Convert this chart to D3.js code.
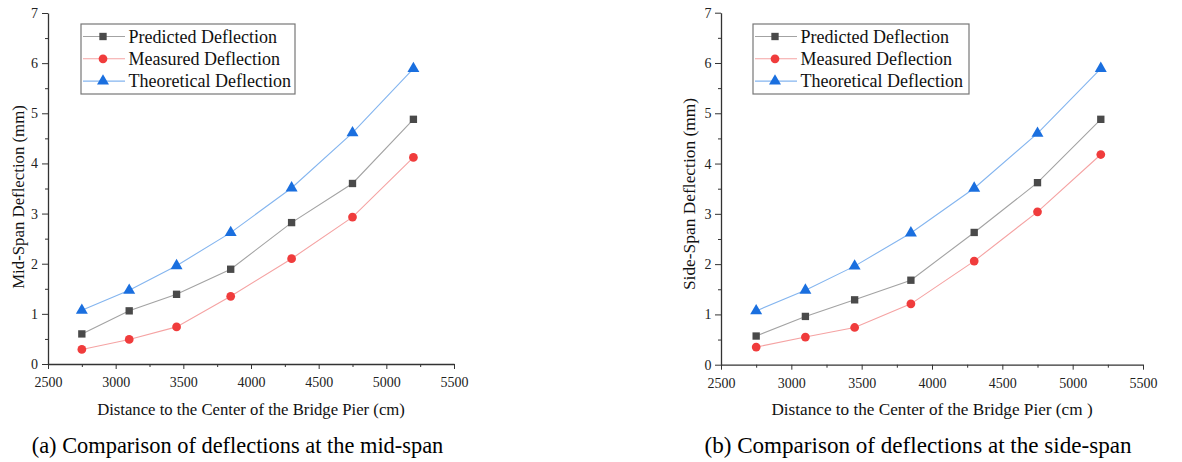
<!DOCTYPE html>
<html>
<head>
<meta charset="utf-8">
<script src="https://cdn.jsdelivr.net/npm/d3@7"></script>
<style>
  body { margin: 0; background: #fff; }
  svg { display: block; }
</style>
</head>
<body>
<div id="graf"></div>
<script>
const fuente = "'Liberation Serif', 'Times New Roman', serif"

// Datos
const distancias = [2750, 3100, 3450, 3850, 4300, 4750, 5200]
const seriesNombres = ["Predicted Deflection", "Measured Deflection", "Theoretical Deflection"]

const midPredicho = [0.6, 1.06, 1.39, 1.89, 2.82, 3.6, 4.88]
const midMedido = [0.29, 0.49, 0.74, 1.35, 2.1, 2.93, 4.12]
const midTeorico = [1.07, 1.47, 1.96, 2.62, 3.51, 4.61, 5.89]

const sidePredicho = [0.57, 0.96, 1.29, 1.68, 2.63, 3.62, 4.88]
const sideMedido = [0.35, 0.55, 0.74, 1.21, 2.06, 3.04, 4.18]
const sideTeorico = [1.07, 1.48, 1.96, 2.62, 3.51, 4.6, 5.89]

const xTicks = [2500, 3000, 3500, 4000, 4500, 5000, 5500]
const yTicks = [0, 1, 2, 3, 4, 5, 6, 7]

// Estilos de series
const estilos = [
  { linea: "#a3a3a3", marca: "#4a4a4a", forma: d3.symbolSquare, size: 54 },
  { linea: "#f5a3a3", marca: "#f03c3c", forma: d3.symbolCircle, size: 60 },
  { linea: "#84b5ef", marca: "#1a6fdf", forma: d3.symbolTriangle, size: 62 },
]

const paneles = [
  {
    series: [midPredicho, midMedido, midTeorico],
    x0: 48, x1: 454, y0: 364, y1: 13,
    ytitulo: "Mid-Span Deflection (mm)", ytx: 24, yty: 197, yfs: 16.8,
    xtitulo: "Distance to the Center of the Bridge Pier (cm)", xtx: 251, xfs: 16.7,
    caption: "(a) Comparison of deflections at the mid-span", cx: 237.5, cfs: 22.4,
    leg: { x: 81, y: 24, w: 214, h: 70 }, ypad: 4,
  },
  {
    series: [sidePredicho, sideMedido, sideTeorico],
    x0: 721, x1: 1143, y0: 364.7, y1: 12.7,
    ytitulo: "Side-Span Deflection (mm)", ytx: 695, yty: 194, yfs: 17.4,
    xtitulo: "Distance to the Center of the Bridge Pier (cm )", xtx: 932, xfs: 17.2,
    caption: "(b) Comparison of deflections at the side-span", cx: 918, cfs: 23.1,
    leg: { x: 753, y: 24, w: 216, h: 70 }, ypad: 3.5,
  },
]

const svg = d3.select("#graf").append("svg")
  .attr("width", 1182)
  .attr("height", 462)
  .attr("font-family", fuente)

const estiloEje = (a) => {
  a.attr("font-family", fuente).attr("font-size", 14)
  a.selectAll("line").attr("stroke", "#333")
  a.select(".domain").attr("stroke", "#333").attr("stroke-width", 1.3)
  a.selectAll("text").attr("fill", "#222")
}

paneles.forEach((p) => {
  const x = d3.scaleLinear().domain([2500, 5500]).range([p.x0, p.x1])
  const y = d3.scaleLinear().domain([0, 7]).range([p.y0, p.y1])
  const g = svg.append("g")

  // Ejes (menores primero)
  g.append("g")
    .attr("transform", `translate(0, ${p.y0})`)
    .call(d3.axisBottom(x).tickValues(d3.range(2750, 5500, 500)).tickSize(3).tickFormat(""))
    .call((a) => a.select(".domain").remove())
    .call(estiloEje)
  g.append("g")
    .attr("transform", `translate(${p.x0}, 0)`)
    .call(d3.axisLeft(y).tickValues(d3.range(0.5, 7, 1)).tickSize(3).tickFormat(""))
    .call((a) => a.select(".domain").remove())
    .call(estiloEje)

  g.append("g")
    .attr("transform", `translate(0, ${p.y0})`)
    .call(d3.axisBottom(x).tickValues(xTicks).tickSize(5).tickSizeOuter(0).tickPadding(8).tickFormat(d3.format("d")))
    .call(estiloEje)

  g.append("g")
    .attr("transform", `translate(${p.x0}, 0)`)
    .call(d3.axisLeft(y).tickValues(yTicks).tickSize(6).tickSizeOuter(0).tickPadding(p.ypad).tickFormat(d3.format("d")))
    .call(estiloEje)

  // Líneas y marcas
  p.series.forEach((vals, i) => {
    const st = estilos[i]
    const pts = distancias.map((d, j) => [d, vals[j]])
    g.append("path")
      .datum(pts)
      .attr("fill", "none")
      .attr("stroke", st.linea)
      .attr("stroke-width", 1.1)
      .attr("d", d3.line().x((d) => x(d[0])).y((d) => y(d[1])))
    g.selectAll(null)
      .data(pts)
      .enter()
      .append("path")
      .attr("transform", (d) => `translate(${x(d[0])}, ${y(d[1])})`)
      .attr("d", d3.symbol().type(st.forma).size(st.size))
      .attr("fill", st.marca)
  })

  // Leyenda
  const leg = g.append("g").attr("transform", `translate(${p.leg.x}, ${p.leg.y})`)
  leg.append("rect")
    .attr("width", p.leg.w)
    .attr("height", p.leg.h)
    .attr("fill", "#fff")
    .attr("stroke", "#777")
    .attr("stroke-width", 1.2)
  seriesNombres.forEach((nombre, i) => {
    const st = estilos[i]
    const ly = 12.5 + i * 22.3
    leg.append("line")
      .attr("x1", 2).attr("x2", 44).attr("y1", ly).attr("y2", ly)
      .attr("stroke", st.linea).attr("stroke-width", 1.1)
    leg.append("path")
      .attr("transform", `translate(22, ${ly})`)
      .attr("d", d3.symbol().type(st.forma).size(st.size))
      .attr("fill", st.marca)
    leg.append("text")
      .attr("x", 47.5).attr("y", ly + 6)
      .attr("font-size", 18)
      .attr("fill", "#111")
      .text(nombre)
  })

  // Títulos
  g.append("text")
    .attr("transform", `translate(${p.ytx}, ${p.yty}) rotate(-90)`)
    .attr("text-anchor", "middle")
    .attr("font-size", p.yfs)
    .attr("fill", "#111")
    .text(p.ytitulo)
  g.append("text")
    .attr("x", p.xtx).attr("y", 415)
    .attr("text-anchor", "middle")
    .attr("font-size", p.xfs)
    .attr("fill", "#111")
    .text(p.xtitulo)
  g.append("text")
    .attr("x", p.cx).attr("y", 452.5)
    .attr("text-anchor", "middle")
    .attr("font-size", p.cfs)
    .attr("fill", "#000")
    .text(p.caption)
})
</script>
</body>
</html>
